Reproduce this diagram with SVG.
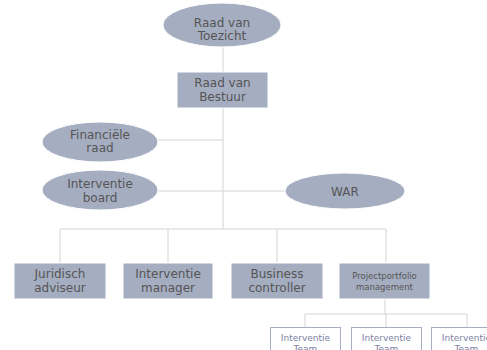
<svg xmlns="http://www.w3.org/2000/svg" width="487" height="350" viewBox="0 0 487 350">
<style>
.n{fill:#a5adc1;stroke:#ffffff;stroke-width:1}
.t{font-family:"DejaVu Sans",sans-serif;font-size:12px;fill:#555555;text-anchor:middle}
.s{font-size:8.5px}
.tm{fill:#ffffff;stroke:#a5adc1;stroke-width:1}
.tt{font-family:"DejaVu Sans",sans-serif;font-size:9px;fill:#7d7fa3;text-anchor:middle}
.c{stroke:#d4d4d4;stroke-width:1;fill:none}
</style>
<rect width="487" height="350" fill="#ffffff"/>
<g id="connectors">
<path class="c" d="M223 47V72M223 108V229M158 140H223M158 191H285M60 229H386M60 229V263M168 229V263M277 229V263M386 229V263M385 299V314M305 314H467M305 314V327M386 314V327M467 314V327"/>
</g>
<g id="raad-van-toezicht"><ellipse class="n" cx="222" cy="25" rx="59" ry="22"/><text class="t" x="222" y="27">Raad van</text><text class="t" x="222" y="40">Toezicht</text></g>
<g id="raad-van-bestuur"><rect class="n" x="177" y="72" width="91" height="36"/><text class="t" x="222.5" y="87">Raad van</text><text class="t" x="222.5" y="101">Bestuur</text></g>
<g id="financiele-raad"><ellipse class="n" cx="100" cy="142" rx="58" ry="20"/><text class="t" x="100" y="139">Financiële</text><text class="t" x="100" y="152">raad</text></g>
<g id="interventie-board"><ellipse class="n" cx="100" cy="190" rx="58" ry="20"/><text class="t" x="100" y="188">Interventie</text><text class="t" x="100" y="202">board</text></g>
<g id="war"><ellipse class="n" cx="345" cy="191" rx="60" ry="18"/><text class="t" x="345" y="196">WAR</text></g>
<g id="juridisch-adviseur"><rect class="n" x="14" y="263" width="92" height="36"/><text class="t" x="60" y="278">Juridisch</text><text class="t" x="60" y="292">adviseur</text></g>
<g id="interventie-manager"><rect class="n" x="123" y="263" width="90" height="36"/><text class="t" x="168" y="278">Interventie</text><text class="t" x="168" y="292">manager</text></g>
<g id="business-controller"><rect class="n" x="231" y="263" width="92" height="36"/><text class="t" x="277" y="278">Business</text><text class="t" x="277" y="292">controller</text></g>
<g id="projectportfolio-management"><rect class="n" x="339" y="263" width="91" height="36"/><text class="t s" x="384.5" y="279">Projectportfolio</text><text class="t s" x="384.5" y="290">management</text></g>
<g id="team-1"><rect class="tm" x="270.5" y="327.5" width="70" height="30"/><text class="tt" x="305.5" y="341">Interventie</text><text class="tt" x="305.5" y="352">Team</text></g>
<g id="team-2"><rect class="tm" x="351.5" y="327.5" width="70" height="30"/><text class="tt" x="386.5" y="341">Interventie</text><text class="tt" x="386.5" y="352">Team</text></g>
<g id="team-3"><rect class="tm" x="431.5" y="327.5" width="70" height="30"/><text class="tt" x="466.5" y="341">Interventie</text><text class="tt" x="466.5" y="352">Team</text></g>
</svg>
